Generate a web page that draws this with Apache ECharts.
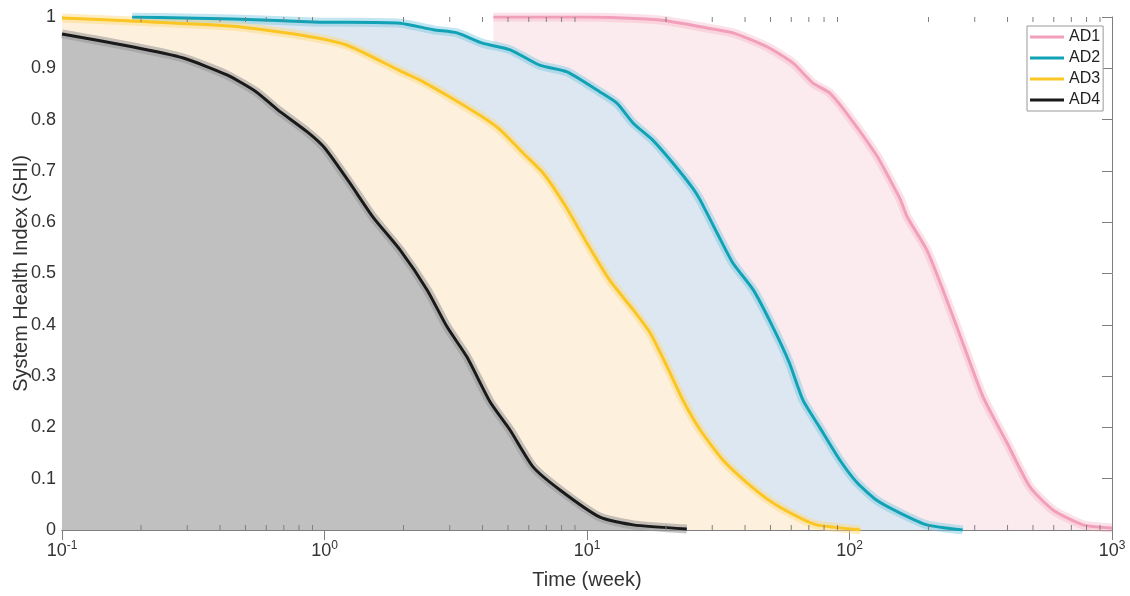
<!DOCTYPE html>
<html>
<head>
<meta charset="utf-8">
<script src="https://cdn.jsdelivr.net/npm/echarts@6/dist/echarts.min.js"></script>
<style>
html, body { margin: 0; padding: 0; background: #fff; }
#chart { width: 1130px; height: 596px; }
</style>
</head>
<body>
<div id="chart"></div>
<script>
// SHI curves: [time (week), SHI]
const ad1 = [[4.4, 1.0], [10, 1.0], [19, 0.994], [27, 0.981], [36, 0.969], [48.5, 0.942], [61, 0.91],
    [72.6, 0.871], [84, 0.852], [100, 0.805], [127, 0.73], [143, 0.682], [156, 0.645], [166, 0.61],
    [197, 0.546], [227, 0.468], [270, 0.365], [323, 0.259], [398, 0.17], [487, 0.084], [596, 0.039],
    [776, 0.01], [1000, 0.004]];
const ad2 = [[0.185, 1.0], [0.45, 0.996], [0.96, 0.99], [1.94, 0.988], [2.6, 0.975], [3.2, 0.969],
    [4.0, 0.949], [5.1, 0.936], [6.6, 0.906], [8.4, 0.893], [11.2, 0.854], [13, 0.832], [15, 0.793],
    [17.8, 0.76], [21.5, 0.712], [25.4, 0.665], [27, 0.643], [31.3, 0.579], [36, 0.52], [43, 0.468],
    [51, 0.396], [59, 0.326], [66.5, 0.253], [77, 0.2], [92, 0.136], [107, 0.092], [127, 0.058],
    [156, 0.033], [197, 0.01], [270, 0.0]];
const ad3 = [[0.1, 0.998], [0.185, 0.992], [0.45, 0.982], [0.81, 0.965], [1.22, 0.945], [1.94, 0.895],
    [2.31, 0.877], [3.0, 0.844], [4.0, 0.805], [4.67, 0.78], [5.7, 0.735], [6.8, 0.696], [8.2, 0.635],
    [10, 0.559], [12.2, 0.487], [15, 0.429], [17.4, 0.384], [20.2, 0.318], [23.2, 0.253], [27, 0.195],
    [33, 0.136], [40.7, 0.092], [51, 0.053], [65, 0.023], [75, 0.01], [110, 0.0]];
const ad4 = [[0.1, 0.967], [0.185, 0.942], [0.29, 0.92], [0.425, 0.887], [0.55, 0.854], [0.66, 0.82],
    [0.86, 0.776], [1.0, 0.745], [1.25, 0.676], [1.53, 0.61], [1.94, 0.546], [2.46, 0.468], [2.93, 0.396],
    [3.49, 0.337], [4.27, 0.25], [5.09, 0.195], [6.23, 0.123], [7.89, 0.078], [11.2, 0.025], [15, 0.01],
    [24, 0.002]];

const names = ['AD1', 'AD2', 'AD3', 'AD4'];
const curves = [ad1, ad2, ad3, ad4];
const lineColors = ['#f29fbb', '#12a2b6', '#fbc623', '#1a1a1a'];
const bandColors = ['rgba(244,170,190,0.35)', 'rgba(120,200,225,0.45)', 'rgba(252,215,120,0.45)', 'rgba(150,150,150,0.55)'];
const fillColors = ['#fcebee', '#dde7f1', '#fdf0dd', '#c0c0c0'];

// log-axis minor ticks (2..9 in each decade)
const minorTicks = [0.2, 0.3, 0.4, 0.5, 0.6, 0.7, 0.8, 0.9, 2, 3, 4, 5, 6, 7, 8, 9,
    20, 30, 40, 50, 60, 70, 80, 90, 200, 300, 400, 500, 600, 700, 800, 900];

const axisColor = '#7f7f7f';
const textColor = '#333';

const chart = echarts.init(document.getElementById('chart'));

const series = [];
// 误差带填充
curves.forEach((d, i) => {
    series.push({
        type: 'line', data: d, symbol: 'none', silent: true, z: 1 + i, smooth: 0.2,
        lineStyle: {width: 0}, areaStyle: {color: fillColors[i], opacity: 1}
    });
});
curves.forEach((d, i) => {
    series.push({
        type: 'line', data: d, symbol: 'none', silent: true, z: 6, smooth: 0.2,
        lineStyle: {width: 9, color: bandColors[i]}
    });
});
curves.forEach((d, i) => {
    series.push({
        name: names[i], type: 'line', data: d, symbol: 'none', z: 8, smooth: 0.2,
        color: lineColors[i], lineStyle: {width: 3, color: lineColors[i]}
    });
});
series.push({
    type: 'custom', silent: true, z: 10,
    data: minorTicks.map(v => [v, 0]),
    encode: {x: 0, y: 1},
    renderItem: function (params, api) {
        const v = api.value(0);
        const b = api.coord([v, 0]);
        const t = api.coord([v, 1]);
        return {
            type: 'group', children: [
                {type: 'line', shape: {x1: b[0], y1: b[1], x2: b[0], y2: b[1] - 5}, style: {stroke: axisColor, lineWidth: 1}},
                {type: 'line', shape: {x1: t[0], y1: t[1], x2: t[0], y2: t[1] + 5}, style: {stroke: axisColor, lineWidth: 1}}
            ]
        };
    }
});

const option = {
    animation: false,
    grid: {left: 62, right: 18, top: 17, bottom: 66, outerBoundsMode: 'none', containLabel: false},
    legend: {
        data: names.map(n => ({name: n, icon: 'rect'})),
        orient: 'vertical',
        left: 1027, top: 26,
        itemWidth: 34, itemHeight: 3, itemGap: 5,
        padding: [3, 3, 3, 3],
        borderColor: '#999', borderWidth: 1,
        backgroundColor: '#fff',
        textStyle: {fontSize: 16, lineHeight: 16, color: '#222', fontFamily: 'Liberation Sans'}
    },
    xAxis: [{
        type: 'log', logBase: 10, min: 0.1, max: 1000,
        name: 'Time (week)', nameLocation: 'middle', nameGap: 40,
        nameTextStyle: {fontSize: 20, color: textColor, fontFamily: 'Liberation Sans'},
        axisLine: {show: true, lineStyle: {color: axisColor}},
        axisTick: {inside: true, length: 10, lineStyle: {color: axisColor}},
        splitLine: {show: false},
        axisLabel: {
            margin: 10, color: textColor, fontFamily: 'Liberation Sans',
            formatter: function (v) {
                return '{a|10}{b|' + Math.round(Math.log10(v)) + '}';
            },
            rich: {
                a: {fontSize: 18, color: textColor, fontFamily: 'Liberation Sans'},
                b: {fontSize: 12, color: textColor, fontFamily: 'Liberation Sans', padding: [0, 0, 10, 0]}
            }
        }
    }, {
        type: 'log', logBase: 10, min: 0.1, max: 1000, position: 'top',
        axisLine: {show: true, lineStyle: {color: axisColor}},
        axisTick: {inside: true, length: 10, lineStyle: {color: axisColor}},
        axisLabel: {show: false}, splitLine: {show: false}
    }],
    yAxis: [{
        type: 'value', min: 0, max: 1, interval: 0.1,
        name: 'System Health Index (SHI)', nameLocation: 'middle', nameGap: 31,
        nameMoveOverlap: false,
        nameTextStyle: {fontSize: 20, color: textColor, fontFamily: 'Liberation Sans'},
        axisLine: {show: true, lineStyle: {color: axisColor}},
        axisTick: {inside: true, length: 10, lineStyle: {color: axisColor}},
        splitLine: {show: false},
        axisLabel: {
            margin: 6, fontSize: 18, color: textColor, fontFamily: 'Liberation Sans',
            formatter: v => String(Math.round(v * 10) / 10)
        }
    }, {
        type: 'value', min: 0, max: 1, interval: 0.1, position: 'right',
        axisLine: {show: true, lineStyle: {color: axisColor}},
        axisTick: {inside: true, length: 10, lineStyle: {color: axisColor}},
        axisLabel: {show: false}, splitLine: {show: false}
    }],
    series: series
};
chart.setOption(option);
</script>
</body>
</html>
